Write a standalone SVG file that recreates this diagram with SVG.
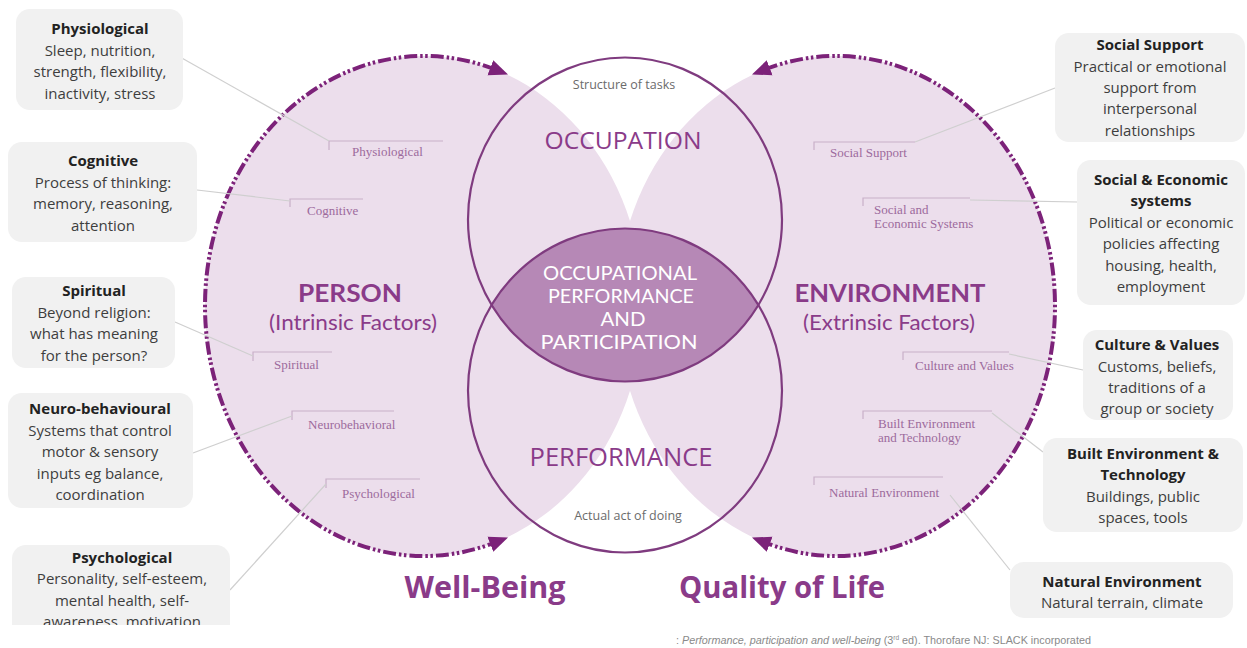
<svg xmlns="http://www.w3.org/2000/svg" xmlns:xlink="http://www.w3.org/1999/xlink" width="1247" height="648" viewBox="0 0 1247 648">
  <style>
    .pink { fill:#ecdeec; }
    .rim { fill:none; stroke:#7c2279; stroke-width:4; stroke-dasharray:13 3 2.5 2.5 2.5 3; marker-start:url(#ah); marker-end:url(#ah); }
    .ring { fill:none; stroke:#7f3b7f; stroke-width:2.2; }
    .lens { fill:#b688b6; }
    .box { fill:#f1f1f1; }
    .bt { font-family:"Open Sans","Noto Sans",sans-serif; font-size:15px; fill:#3e3e3e; text-anchor:middle; }
    .bt .h { font-weight:700; fill:#222222; }
    .lbl { font-family:"Liberation Serif",serif; font-size:13px; fill:#9c6a9c; }
    .brk { fill:none; stroke:#c8b0c8; stroke-width:1.2; }
    .lead { fill:none; stroke:#cfcfcf; stroke-width:1.2; }
    .big { font-family:"Open Sans","Noto Sans",sans-serif; text-anchor:middle; fill:#8a3b89; }
    .sub { font-family:Lato,"Open Sans",sans-serif; text-anchor:middle; fill:#8a3b89; }
    .note { font-family:"Open Sans","Noto Sans",sans-serif; font-size:12.5px; fill:#6b6b6b; text-anchor:middle; }
    .inner { font-family:Lato,"Open Sans",sans-serif; font-size:19px; fill:#ffffff; text-anchor:middle; }
  </style>
  <defs>
    <marker id="ah" markerUnits="userSpaceOnUse" markerWidth="20" markerHeight="18" viewBox="0 0 20 18" refX="5" refY="9" orient="auto-start-reverse">
      <path d="M0,1 L19,9 L0,17 Z" fill="#7c2279"/>
    </marker>
    <!-- elliptical rim, open on the side facing the centre -->
    <path id="shapeRim" d="M495 69.5 A219 250 0 1 0 495 542.5"/>
    <clipPath id="cutBottom">
      <rect x="0" y="0" width="1247" height="625"/>
    </clipPath>
  </defs>

  <rect width="1247" height="648" fill="#ffffff"/>

  <!-- Person: intrinsic factors -->
  <g id="person">
    <ellipse class="pink" cx="424" cy="306" rx="219" ry="250"/>
  </g>
  <!-- Environment: extrinsic factors -->
  <g id="environment">
    <ellipse class="pink" cx="836" cy="306" rx="219" ry="250"/>
  </g>

  <!-- Occupation / performance rings and their overlap -->
  <g id="occupation-performance">
    <path id="lens" class="lens" d="M491.6 305 A157 162 0 0 1 758.4 305 A157 162 0 0 1 491.6 305 Z"/>
    <ellipse class="ring" cx="625" cy="219.5" rx="157" ry="162"/>
    <ellipse class="ring" cx="625" cy="390.5" rx="157" ry="162"/>
  </g>

  <!-- Dashed rims with arrows -->
  <g id="rims">
    <use xlink:href="#shapeRim" class="rim"/>
    <use xlink:href="#shapeRim" class="rim" transform="matrix(-1 0 0 1 1260 0)"/>
  </g>

  <!-- Main labels -->
  <g id="main-labels">
    <text class="sub" x="350" y="302" font-size="25" font-weight="700" textLength="104" lengthAdjust="spacingAndGlyphs">PERSON</text>
    <text class="sub" x="353" y="330" font-size="21" fill="#8d4a8c" textLength="168" lengthAdjust="spacingAndGlyphs">(Intrinsic Factors)</text>
    <text class="sub" x="890" y="302" font-size="25" font-weight="700" textLength="191" lengthAdjust="spacingAndGlyphs">ENVIRONMENT</text>
    <text class="sub" x="889" y="330" font-size="21" fill="#8d4a8c" textLength="172" lengthAdjust="spacingAndGlyphs">(Extrinsic Factors)</text>
    <text class="note" x="624" y="89">Structure of tasks</text>
    <text class="big" x="623" y="149" font-size="24.5" fill="#8e4a8e" textLength="157" lengthAdjust="spacingAndGlyphs">OCCUPATION</text>
    <text class="inner" x="620" y="280" textLength="154" lengthAdjust="spacingAndGlyphs">OCCUPATIONAL</text>
    <text class="inner" x="621" y="303" textLength="146" lengthAdjust="spacingAndGlyphs">PERFORMANCE</text>
    <text class="inner" x="623" y="326" textLength="45" lengthAdjust="spacingAndGlyphs">AND</text>
    <text class="inner" x="619" y="349" textLength="157" lengthAdjust="spacingAndGlyphs">PARTICIPATION</text>
    <text class="big" x="621" y="466" font-size="25" fill="#8e4a8e" textLength="183" lengthAdjust="spacingAndGlyphs">PERFORMANCE</text>
    <text class="note" x="628" y="520">Actual act of doing</text>
    <text class="big" x="485" y="598" font-size="30.5" font-weight="700" fill="#872a86" textLength="161" lengthAdjust="spacingAndGlyphs">Well-Being</text>
    <text class="big" x="782" y="598" font-size="30.5" font-weight="700" fill="#872a86" textLength="206" lengthAdjust="spacingAndGlyphs">Quality of Life</text>
  </g>

  <!-- Factor labels with bracket rules -->
  <g id="factor-labels">
    <path class="brk" d="M329 150 V141 H443 M290 207 V199 H363 M253 361 V352 H332 M292 420 V411 H394 M326 488 V479 H420"/>
    <path class="brk" d="M814 150 V142 H915 M863 206 V198 H970 M903 360 V352 H1009 M863 419 V411 H992 M814 485 V477 H943"/>
    <text class="lbl" x="352" y="156">Physiological</text>
    <text class="lbl" x="307" y="215">Cognitive</text>
    <text class="lbl" x="274" y="369">Spiritual</text>
    <text class="lbl" x="308" y="429">Neurobehavioral</text>
    <text class="lbl" x="342" y="498">Psychological</text>
    <text class="lbl" x="830" y="157">Social Support</text>
    <text class="lbl" x="874" y="214">Social and</text>
    <text class="lbl" x="874" y="228">Economic Systems</text>
    <text class="lbl" x="915" y="370">Culture and Values</text>
    <text class="lbl" x="878" y="428">Built Environment</text>
    <text class="lbl" x="878" y="442">and Technology</text>
    <text class="lbl" x="829" y="497">Natural Environment</text>
  </g>

  <!-- Leader lines from the boxes to the factor labels -->
  <g id="connectors">
    <line class="lead" x1="180" y1="57" x2="329" y2="141"/>
    <line class="lead" x1="197" y1="190" x2="290" y2="201"/>
    <line class="lead" x1="175" y1="322" x2="253" y2="356"/>
    <line class="lead" x1="193" y1="453" x2="292" y2="416"/>
    <line class="lead" x1="230" y1="590" x2="326" y2="484"/>
    <line class="lead" x1="915" y1="142" x2="1055" y2="88"/>
    <line class="lead" x1="970" y1="200" x2="1077" y2="202"/>
    <line class="lead" x1="1009" y1="354" x2="1083" y2="370"/>
    <line class="lead" x1="992" y1="413" x2="1043" y2="452"/>
    <line class="lead" x1="950" y1="495" x2="1010" y2="570"/>
  </g>

  <!-- Description boxes -->
  <g id="box-physiological">
    <rect class="box" x="16" y="9" width="167" height="101" rx="14"/>
    <text class="bt"><tspan class="h" x="100" y="34">Physiological</tspan><tspan x="100" y="56">Sleep, nutrition,</tspan><tspan x="100" y="77">strength, flexibility,</tspan><tspan x="100" y="99">inactivity, stress</tspan></text>
  </g>
  <g id="box-cognitive">
    <rect class="box" x="8" y="142" width="189" height="100" rx="14"/>
    <text class="bt"><tspan class="h" x="103" y="166">Cognitive</tspan><tspan x="103" y="188">Process of thinking:</tspan><tspan x="103" y="209">memory, reasoning,</tspan><tspan x="103" y="231">attention</tspan></text>
  </g>
  <g id="box-spiritual">
    <rect class="box" x="12" y="277" width="163" height="91" rx="14"/>
    <text class="bt"><tspan class="h" x="94" y="296">Spiritual</tspan><tspan x="94" y="318">Beyond religion:</tspan><tspan x="94" y="339">what has meaning</tspan><tspan x="94" y="361">for the person?</tspan></text>
  </g>
  <g id="box-neurobehavioural">
    <rect class="box" x="8" y="393" width="185" height="115" rx="14"/>
    <text class="bt"><tspan class="h" x="100" y="414">Neuro-behavioural</tspan><tspan x="100" y="436">Systems that control</tspan><tspan x="100" y="457">motor &amp; sensory</tspan><tspan x="100" y="479">inputs eg balance,</tspan><tspan x="100" y="500">coordination</tspan></text>
  </g>
  <g id="box-psychological" clip-path="url(#cutBottom)">
    <rect class="box" x="12" y="545" width="218" height="95" rx="14"/>
    <text class="bt"><tspan class="h" x="122" y="563">Psychological</tspan><tspan x="122" y="584">Personality, self-esteem,</tspan><tspan x="122" y="606">mental health, self-</tspan><tspan x="122" y="627">awareness, motivation</tspan></text>
  </g>
  <g id="box-social-support">
    <rect class="box" x="1055" y="33" width="190" height="109" rx="14"/>
    <text class="bt"><tspan class="h" x="1150" y="50">Social Support</tspan><tspan x="1150" y="72">Practical or emotional</tspan><tspan x="1150" y="93">support from</tspan><tspan x="1150" y="114">interpersonal</tspan><tspan x="1150" y="136">relationships</tspan></text>
  </g>
  <g id="box-social-economic">
    <rect class="box" x="1077" y="160" width="168" height="145" rx="14"/>
    <text class="bt"><tspan class="h" x="1161" y="185">Social &amp; Economic</tspan><tspan class="h" x="1161" y="206">systems</tspan><tspan x="1161" y="228">Political or economic</tspan><tspan x="1161" y="249">policies affecting</tspan><tspan x="1161" y="271">housing, health,</tspan><tspan x="1161" y="292">employment</tspan></text>
  </g>
  <g id="box-culture">
    <rect class="box" x="1083" y="330" width="150" height="90" rx="14"/>
    <text class="bt"><tspan class="h" x="1157" y="350">Culture &amp; Values</tspan><tspan x="1157" y="372">Customs, beliefs,</tspan><tspan x="1157" y="393">traditions of a</tspan><tspan x="1157" y="414">group or society</tspan></text>
  </g>
  <g id="box-built">
    <rect class="box" x="1043" y="438" width="200" height="94" rx="14"/>
    <text class="bt"><tspan class="h" x="1143" y="459">Built Environment &amp;</tspan><tspan class="h" x="1143" y="480">Technology</tspan><tspan x="1143" y="502">Buildings, public</tspan><tspan x="1143" y="523">spaces, tools</tspan></text>
  </g>
  <g id="box-natural">
    <rect class="box" x="1010" y="562" width="223" height="56" rx="14"/>
    <text class="bt"><tspan class="h" x="1122" y="587">Natural Environment</tspan><tspan x="1122" y="608">Natural terrain, climate</tspan></text>
  </g>

  <!-- Source line -->
  <text x="676" y="644" font-family="'Liberation Sans',sans-serif" font-size="10.8" fill="#8a8a8a">: <tspan font-style="italic">Performance, participation and well-being</tspan> (3<tspan font-size="6.5" dy="-4">rd</tspan><tspan dy="4"> ed). Thorofare NJ: SLACK incorporated</tspan></text>
</svg>
